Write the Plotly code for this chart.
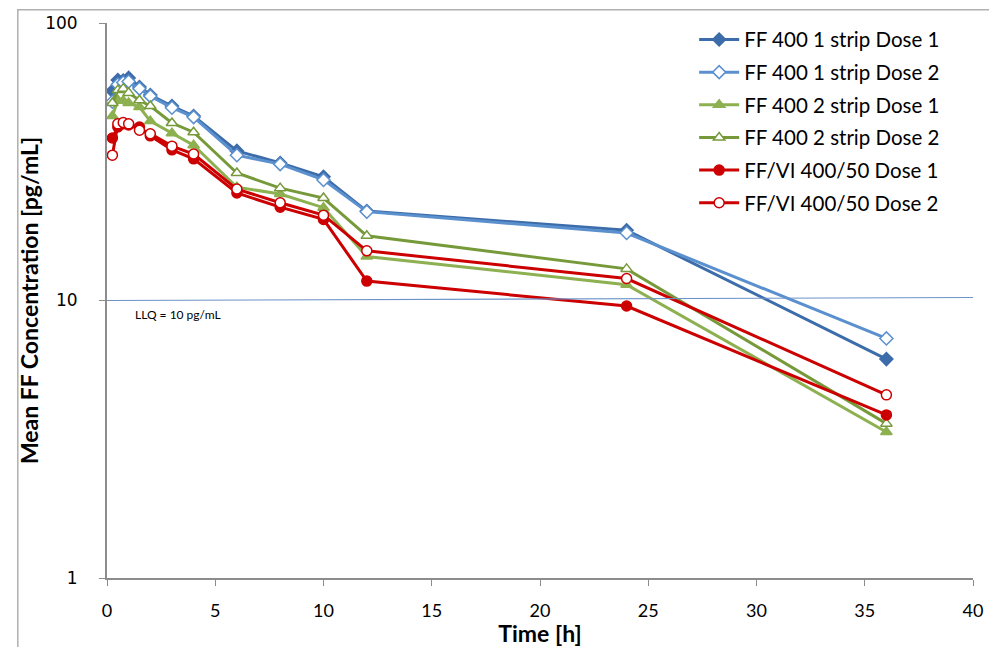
import plotly.graph_objects as go

time_h = [0.25, 0.5, 0.75, 1, 1.5, 2, 3, 4, 6, 8, 10, 12, 24, 36]

ff1_d1 = [56.9, 62.3, 62.0, 63.4, 58.8, 55.0, 50.2, 46.2, 34.6, 31.3, 27.9, 21.0, 17.9, 6.15]
ff1_d2 = [52.0, 60.0, 61.0, 61.5, 58.0, 54.5, 49.5, 45.8, 33.4, 31.0, 27.2, 20.9, 17.5, 7.3]
ff2_d1 = [46.2, 52.7, 52.5, 51.5, 49.8, 44.3, 40.1, 36.3, 25.6, 24.2, 21.6, 14.4, 11.4, 3.36]
ff2_d2 = [51.5, 57.3, 58.0, 56.0, 52.7, 50.2, 43.6, 40.4, 28.8, 25.4, 23.4, 17.1, 13.0, 3.6]
ffvi_d1 = [38.5, 42.2, 43.3, 42.9, 42.2, 39.2, 34.9, 32.4, 24.4, 21.7, 19.6, 11.75, 9.55, 3.87]
ffvi_d2 = [33.4, 43.3, 43.8, 43.3, 41.1, 39.9, 36.0, 33.7, 25.2, 22.5, 20.3, 15.1, 12.0, 4.57]

series_names = ["FF 400 1 strip Dose 1", "FF 400 1 strip Dose 2",
                "FF 400 2 strip Dose 1", "FF 400 2 strip Dose 2",
                "FF/VI 400/50 Dose 1", "FF/VI 400/50 Dose 2"]
series_values = [ff1_d1, ff1_d2, ff2_d1, ff2_d2, ffvi_d1, ffvi_d2]
colors = ["#3D6CAA", "#5A90CE", "#8DB050", "#76993A", "#CC0000", "#CC0000"]
symbols = ["diamond", "diamond", "triangle-up", "triangle-up", "circle", "circle"]
hollow = [False, True, False, True, False, True]

x_ticks = [0, 5, 10, 15, 20, 25, 30, 35, 40]
y_ticks = [1, 10, 100]
llq_value = 10

FONT = "Lato, Open Sans, sans-serif"

fig = go.Figure()
for name, vals, col, sym, hol in zip(series_names, series_values, colors, symbols, hollow):
    fig.add_trace(go.Scatter(
        x=time_h, y=vals, name=name, legendgroup=name, mode="lines+markers",
        line=dict(color=col, width=3),
        marker=dict(symbol=sym, size=10, color="white" if hol else col,
                    line=dict(color=col, width=1.5)),
    ))

fig.add_shape(type="line", xref="x", yref="y", x0=0, x1=40, y0=llq_value, y1=llq_value * 1.025,
              line=dict(color="#6C93C8", width=1.2))
fig.add_annotation(x=1.2, y=1.0, xref="x", yref="y", text="LLQ = 10 pg/mL", showarrow=False,
                   xanchor="left", yanchor="top", yshift=-4,
                   font=dict(family=FONT, size=12, color="#000000"))

# outer frame
fig.add_shape(type="rect", xref="paper", yref="paper", x0=-0.103, x1=1.2, y0=-0.2, y1=1.024,
              line=dict(color="#B0B0B0", width=1.5), fillcolor="rgba(0,0,0,0)", layer="below")

fig.update_layout(
    width=989, height=647,
    margin=dict(l=107, r=6, t=23, b=69),
    paper_bgcolor="white", plot_bgcolor="white",
    showlegend=True,
    legend=dict(x=0.678, y=1.006, xanchor="left", yanchor="top",
                font=dict(family=FONT, size=20.5, color="#000000"),
                bgcolor="rgba(0,0,0,0)", tracegroupgap=3, itemwidth=40,
                traceorder="grouped"),
    xaxis=dict(range=[0, 40], tickvals=x_ticks, ticktext=[str(v) for v in x_ticks],
               showgrid=False, zeroline=False, showline=True, linecolor="#8C8C8C", linewidth=2,
               ticks="outside", ticklen=6, tickcolor="#8C8C8C", ticklabelstandoff=9,
               ticklabeloverflow="allow",
               tickfont=dict(family=FONT, size=18, color="#000000"),
               title=dict(text="<b>Time [h]</b>", standoff=4,
                          font=dict(family=FONT, size=23, color="#000000"))),
    yaxis=dict(type="log", range=[0, 2], tickvals=y_ticks, ticktext=[str(v) for v in y_ticks],
               showgrid=False, zeroline=False, showline=True, linecolor="#8C8C8C", linewidth=2,
               ticks="outside", ticklen=6, tickcolor="#8C8C8C", ticklabelstandoff=18,
               tickfont=dict(family="DejaVu Sans, Verdana, sans-serif", size=17, color="#000000"),
               title=dict(text="<b>Mean FF Concentration [pg/mL]</b>", standoff=0,
                          font=dict(family=FONT, size=23, color="#000000"))),
)

fig.write_html("out.html")
